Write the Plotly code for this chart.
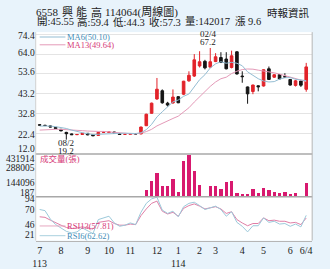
import plotly.graph_objects as go

W, H = 330, 269

# ---------------- data ----------------
idx = list(range(51))
opens = [27.0, 26.7, 26.4, 25.6, 24.6, 23.0, 22.2, 21.8, 21.9, 22.5,
         21.9, 21.4, 23.0, 23.0, 23.2, 22.4, 22.0, 22.0, 22.3, 22.2,
         26.5, 33.0, 40.5, 44.8, 38.3, 38.4, 41.7, 43.0, 50.0, 52.5,
         57.8, 60.2, 57.2, 60.1, 62.2, 61.4, 57.0, 65.2, 52.5, 46.8,
         44.4, 47.4, 47.3, 56.3, 51.9, 53.3, 52.2, 50.7, 47.6, 49.9, 45.55]
highs = [27.2, 27.0, 26.6, 25.8, 24.8, 23.3, 22.4, 22.1, 22.7, 22.6,
         22.0, 23.3, 23.3, 23.4, 23.3, 22.5, 22.3, 22.5, 22.4, 26.0,
         32.8, 38.6, 51.5, 45.5, 39.0, 45.5, 42.0, 50.0, 55.0, 64.0,
         65.5, 61.0, 67.2, 64.5, 65.0, 65.0, 65.8, 65.5, 55.0, 47.0,
         48.0, 47.6, 56.0, 57.5, 53.5, 53.5, 54.0, 51.0, 50.5, 50.2, 59.4]
lows = [26.6, 26.3, 25.7, 24.8, 23.6, 19.2, 21.6, 21.6, 21.7, 21.5,
        21.0, 21.3, 22.7, 22.8, 22.5, 21.8, 21.8, 21.9, 22.0, 22.0,
        26.3, 32.8, 40.0, 38.0, 36.5, 38.0, 38.3, 42.5, 49.5, 52.0,
        57.0, 56.0, 56.8, 59.8, 59.3, 56.0, 56.5, 53.3, 49.0, 38.0,
        43.0, 44.5, 47.0, 50.5, 51.5, 50.8, 51.5, 47.5, 47.0, 46.8, 44.3]
closes = [26.8, 26.6, 25.8, 25.0, 23.8, 22.3, 21.8, 21.9, 22.5, 21.7,
          21.2, 23.0, 23.1, 23.2, 22.6, 21.9, 22.0, 22.3, 22.2, 25.8,
          32.5, 38.3, 45.6, 38.5, 37.3, 41.5, 38.5, 49.8, 52.9, 61.0,
          60.0, 56.8, 60.0, 62.6, 59.6, 56.3, 63.1, 53.6, 52.2, 43.2,
          47.8, 46.9, 55.8, 50.7, 53.2, 51.0, 52.0, 47.8, 50.0, 47.7, 57.3]
ma6 = [26.3, 26.4, 26.3, 26.0, 25.6, 25.05, 24.2, 23.4, 22.85, 22.3,
       21.9, 22.0, 22.2, 22.4, 22.5, 22.5, 22.6, 22.5, 22.4, 22.8,
       24.45, 27.2, 31.1, 33.8, 36.3, 38.95, 39.95, 41.9, 43.1, 46.8,
       50.6, 53.2, 56.75, 58.9, 60.0, 59.2, 59.7, 59.2, 57.9, 54.7,
       52.7, 51.1, 49.9, 49.4, 49.6, 50.9, 51.6, 51.75, 50.8, 50.3, 50.10]
ma13 = [24.2, 24.4, 24.5, 24.6, 24.6, 24.5, 24.3, 24.1, 23.9, 23.7,
        23.5, 23.5, 23.5, 23.2, 22.9, 22.6, 22.4, 22.3, 22.25, 22.6,
        23.4, 24.6, 26.4, 27.8, 28.9, 30.3, 31.5, 33.55, 35.9, 38.9,
        41.8, 44.5, 47.1, 49.4, 51.1, 51.9, 53.8, 55.05, 55.9, 56.2,
        56.1, 55.6, 55.2, 54.5, 54.2, 53.5, 52.7, 51.8, 51.3, 50.2, 49.64]
volume = [3000, 2500, 3500, 3000, 4000, 6000, 3000, 2000, 2500, 3000,
          2500, 4000, 2500, 2000, 3000, 2500, 2000, 2500, 3000, 12000,
          66000, 155000, 237000, 105000, 105000, 181000, 49000, 362000, 425000, 264000,
          115000, 8000, 108000, 108000, 76000, 145000, 155000, 41000, 27000, 27000,
          83000, 39000, 89000, 66000, 43000, 34000, 49000, 24000, 34000, 10000, 142017]
rsi6 = [73, 71, 56, 46, 40, 34, 31, 33, 40, 35,
        30, 55, 58, 61, 49, 43, 45, 49, 46, 68,
        84, 92, 95, 72, 66, 70, 60, 78, 84, 86,
        80, 73, 76, 79, 73, 61, 69, 50, 43, 33,
        44, 44, 58, 50, 52, 47, 48, 43, 47, 42, 62.62]
rsi13 = [60, 59, 54, 49, 45, 41, 39, 40, 42, 40,
         38, 50, 52, 53, 48, 45, 45, 47, 46, 62,
         74, 84, 88, 70, 65, 68, 61, 75, 80, 83,
         79, 74, 76, 78, 74, 66, 69, 55, 49, 44,
         48, 48, 58, 53, 54, 52, 52, 49, 50, 46, 57.81]

x_tick_pos = [0, 4, 9, 13, 17, 22, 26, 30, 33, 38, 42, 47, 50]
x_tick_text = ["7<br>113", "8", "9", "10", "11", "12", "1<br>114", "2", "3", "4", "5", "6", "6/4"]
price_ticks = [12.0, 22.4, 32.8, 43.2, 53.6, 64.0, 74.4]
vol_ticks = [187, 144096, 288005, 431914]
rsi_ticks = [21, 46, 70, 94]

title1_parts = ["6558", "興", "能", "高", "114064(周線圖)"]
title2_parts = ["開:45.55", "高:59.4", "低:44.3", "收:57.3", "量:142017", "漲 9.6"]
source = "時報資訊"

# ---------------- styles ----------------
RED = "#e2232a"
BLK = "#151515"
VOLC = "#d8196f"
MA6C = "#94bdd3"
MA13C = "#e49ab8"
BLUE_T = "#3f8db8"
PINK_T = "#d63a78"
BG = "#e8f3fb"
SERIF = "Liberation Serif, 'Noto Sans CJK TC', serif"

def py(pix):  # pixel row -> paper fraction
    return 1 - pix / H

def px(pix):
    return pix / W

X0, X1 = 33, 312
XR = [(X0 - 37) / 5.38, (X1 - 37) / 5.38]
P_TOP, P_BOT, V_BOT, R_BOT = 33, 158, 202, 247

fig = go.Figure()
fig.add_trace(go.Candlestick(
    x=idx, open=opens, high=highs, low=lows, close=closes,
    xaxis="x", yaxis="y", whiskerwidth=0,
    increasing=dict(line=dict(color=RED, width=1), fillcolor=RED),
    decreasing=dict(line=dict(color=BLK, width=1), fillcolor=BLK),
    hoverinfo="skip"))
fig.add_trace(go.Scatter(x=idx, y=ma13, mode="lines", line=dict(color=MA13C, width=1),
                         xaxis="x", yaxis="y", hoverinfo="skip"))
fig.add_trace(go.Scatter(x=idx, y=ma6, mode="lines", line=dict(color=MA6C, width=1),
                         xaxis="x", yaxis="y", hoverinfo="skip"))
fig.add_trace(go.Bar(x=idx, y=volume, marker=dict(color=VOLC, line=dict(width=0)),
                     width=0.62, xaxis="x2", yaxis="y2", hoverinfo="skip"))
fig.add_trace(go.Scatter(x=idx, y=rsi13, mode="lines", line=dict(color="#e07ea6", width=1),
                         xaxis="x3", yaxis="y3", hoverinfo="skip"))
fig.add_trace(go.Scatter(x=idx, y=rsi6, mode="lines", line=dict(color="#9cc9da", width=1),
                         xaxis="x3", yaxis="y3", hoverinfo="skip"))

xdom = [px(X0), px(X1)]
common_x = dict(domain=xdom, range=XR, showgrid=False, zeroline=False, fixedrange=True)
fig.update_layout(
    width=W, height=H, margin=dict(l=0, r=0, t=0, b=0),
    paper_bgcolor=BG, plot_bgcolor="white", showlegend=False,
    xaxis=dict(**common_x, anchor="y", showticklabels=False, rangeslider=dict(visible=False)),
    xaxis2=dict(**common_x, anchor="y2", showticklabels=False),
    xaxis3=dict(**common_x, anchor="y3", tickmode="array", tickvals=x_tick_pos,
                ticktext=x_tick_text, ticks="", showline=True, linecolor="#b5b5b5",
                tickfont=dict(family=SERIF, size=10, color="#222")),
    yaxis=dict(domain=[py(P_BOT), py(P_TOP)], range=[11.74, 75.5], tickmode="array",
               tickvals=price_ticks, showticklabels=False, showgrid=True,
               gridcolor="#e4e4e4", gridwidth=1, zeroline=False, fixedrange=True),
    yaxis2=dict(domain=[py(V_BOT), py(P_BOT)], range=[0, 431914], showticklabels=False,
                showgrid=False, zeroline=False, fixedrange=True),
    yaxis3=dict(domain=[py(R_BOT), py(V_BOT)], range=[17.5, 95.8], showticklabels=False,
                showgrid=False, zeroline=False, fixedrange=True),
    bargap=0,
)

ann = []
TF = dict(family=SERIF, size=9.5, color="#222")
price_shift = [4.5, -1, 0, 0, 2, 1.5, -2]
for v, s in zip(price_ticks, price_shift):
    ann.append(dict(x=px(33.5), xref="paper", y=v, yref="y", text=f"{v:.1f}",
                    xanchor="right", showarrow=False, font=TF, yshift=s, borderpad=0))
vol_shift = [3.7, -1, 0, -5]
for v, s in zip(vol_ticks, vol_shift):
    ann.append(dict(x=px(33.5), xref="paper", y=v, yref="y2", text=str(v),
                    xanchor="right", showarrow=False, font=TF, yshift=s, borderpad=0))
rsi_shift = [4, 0, 1, -1.3]
for v, s in zip(rsi_ticks, rsi_shift):
    ann.append(dict(x=px(33.5), xref="paper", y=v, yref="y3", text=str(v),
                    xanchor="right", showarrow=False, font=TF, yshift=s, borderpad=0))

def label(xp, yp, text, size, color, anchor="center"):
    return dict(x=px(xp), y=py(yp), xref="paper", yref="paper", text=text, xanchor=anchor,
                yanchor="middle", showarrow=False, borderpad=0,
                font=dict(family=SERIF, size=size, color=color))

# titles: pieces centred at their places in the header line
t1_centres = [45, 65, 79.5, 94, 140]
for t, c in zip(title1_parts, t1_centres):
    ann.append(label(c, 12.5, t, 11, "#222"))
t2_centres = [52.5, 91.5, 127.5, 163.5, 206.5, 247]
for t, c in zip(title2_parts, t2_centres):
    ann.append(label(c, 22.5, t, 10.5, "#222"))
ann.append(label(288, 13, source, 10.5, "#222"))

# legends
LF = 8.5
ann.append(label(64, 38, "MA6(50.10)", LF, BLUE_T, anchor="left"))
ann.append(label(64, 46, "MA13(49.64)", LF, PINK_T, anchor="left"))
ann.append(label(58, 163.5, "成交量(張)", LF, PINK_T))
ann.append(label(64, 232, "RSI13(57.81)", LF, PINK_T, anchor="left"))
ann.append(label(64, 242, "RSI6(62.62)", LF, BLUE_T, anchor="left"))

# extreme markers
lo_i = lows.index(min(lows))
hi_i = highs.index(max(highs))
MF = dict(family=SERIF, size=9, color="#222")
ann.append(dict(x=lo_i, y=lows[lo_i], xref="x", yref="y", text="08/2", yanchor="top",
                showarrow=False, font=MF, yshift=2.5, borderpad=0))
ann.append(dict(x=lo_i, y=lows[lo_i], xref="x", yref="y", text=f"{lows[lo_i]:.1f}", yanchor="top",
                showarrow=False, font=MF, yshift=-5.5, borderpad=0))
ann.append(dict(x=hi_i, y=highs[hi_i], xref="x", yref="y", text="67.2", yanchor="bottom",
                showarrow=False, font=MF, yshift=0, xshift=-2, borderpad=0))
ann.append(dict(x=hi_i, y=highs[hi_i], xref="x", yref="y", text="02/4", yanchor="bottom",
                showarrow=False, font=MF, yshift=8, xshift=-2, borderpad=0))

shapes = []
# legend sample lines
for yy, c in [(38, MA6C), (46, MA13C), (232, "#e6a7c0"), (242, "#a9d0de")]:
    shapes.append(dict(type="line", xref="paper", yref="paper", x0=px(37), x1=px(63),
                       y0=py(yy), y1=py(yy), line=dict(color=c, width=1)))
# panel separators and borders
for yy in (P_BOT, V_BOT):
    shapes.append(dict(type="line", xref="paper", yref="paper", x0=px(X0), x1=px(X1),
                       y0=py(yy), y1=py(yy), line=dict(color="#a8a8a8", width=1.5)))
shapes.append(dict(type="line", xref="paper", yref="paper", x0=px(X1), x1=px(X1),
                   y0=py(R_BOT), y1=py(P_TOP), line=dict(color="#b5b5b5", width=1)))
shapes.append(dict(type="line", xref="paper", yref="paper", x0=px(X0), x1=px(X0),
                   y0=py(R_BOT), y1=py(P_TOP), line=dict(color="#d0d0d0", width=1)))
fig.update_layout(annotations=ann, shapes=shapes)

fig.write_html("out.html", config={"displayModeBar": False, "staticPlot": True})
